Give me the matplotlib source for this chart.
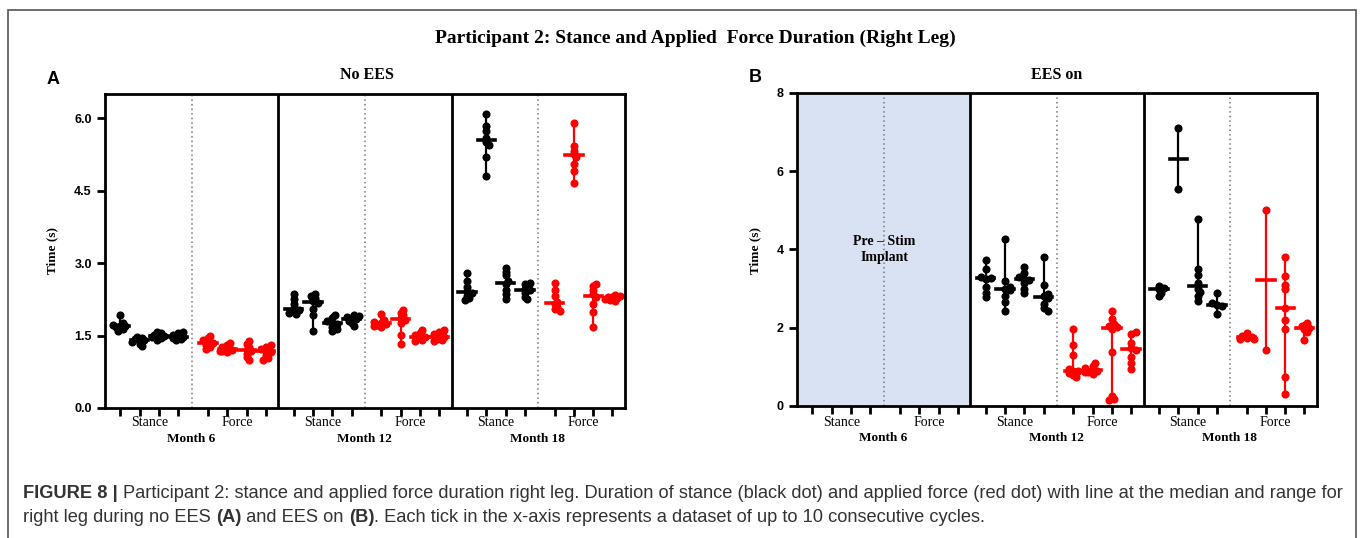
import numpy as np
import matplotlib
matplotlib.use("Agg")
import matplotlib.pyplot as plt
from matplotlib.transforms import blended_transform_factory
from matplotlib.patches import Rectangle

# values (seconds), 4 datasets per group
months = ["Month 6", "Month 12", "Month 18"]
groups = ["Stance", "Force"]

# A: no EES
a6_stance = [[1.93, 1.76, 1.72, 1.70, 1.70, 1.68, 1.64, 1.60],
             [1.48, 1.45, 1.42, 1.40, 1.40, 1.37, 1.33, 1.28],
             [1.58, 1.56, 1.52, 1.50, 1.50, 1.47, 1.44, 1.40],
             [1.58, 1.55, 1.52, 1.48, 1.48, 1.45, 1.42, 1.40]]
a6_force = [[1.50, 1.44, 1.40, 1.36, 1.34, 1.30, 1.26, 1.22],
            [1.35, 1.30, 1.26, 1.23, 1.21, 1.19, 1.17, 1.15],
            [1.38, 1.33, 1.27, 1.21, 1.19, 1.12, 1.05, 1.00],
            [1.30, 1.26, 1.22, 1.18, 1.16, 1.10, 1.04, 1.00]]
a12_stance = [[2.35, 2.25, 2.15, 2.07, 2.03, 2.00, 1.97, 1.95],
              [2.35, 2.32, 2.28, 2.22, 2.18, 2.05, 1.92, 1.60],
              [1.92, 1.86, 1.80, 1.76, 1.74, 1.68, 1.64, 1.60],
              [1.92, 1.90, 1.88, 1.86, 1.84, 1.80, 1.75, 1.70]]
a12_force = [[1.95, 1.82, 1.78, 1.76, 1.74, 1.72, 1.70, 1.68],
             [2.02, 1.97, 1.92, 1.87, 1.83, 1.75, 1.52, 1.33],
             [1.62, 1.56, 1.52, 1.49, 1.47, 1.44, 1.40, 1.38],
             [1.62, 1.58, 1.53, 1.49, 1.47, 1.43, 1.40, 1.38]]
a18_stance = [[2.79, 2.62, 2.50, 2.42, 2.38, 2.32, 2.27, 2.23],
              [6.08, 5.83, 5.74, 5.58, 5.50, 5.44, 5.20, 4.80],
              [2.89, 2.82, 2.75, 2.62, 2.56, 2.45, 2.35, 2.25],
              [2.59, 2.57, 2.52, 2.46, 2.44, 2.38, 2.30, 2.25]]
a18_force = [[2.59, 2.45, 2.32, 2.20, 2.15, 2.10, 2.05, 2.01],
             [5.90, 5.42, 5.33, 5.26, 5.20, 5.05, 4.90, 4.65],
             [2.57, 2.52, 2.45, 2.35, 2.30, 2.15, 1.98, 1.68],
             [2.34, 2.32, 2.30, 2.29, 2.27, 2.25, 2.23, 2.22]]

# B: EES on (no data at month 6, pre-implant)
b12_stance = [[3.73, 3.50, 3.30, 3.27, 3.25, 3.05, 2.90, 2.78],
              [4.27, 3.20, 3.05, 3.00, 2.96, 2.80, 2.65, 2.44],
              [3.56, 3.40, 3.30, 3.25, 3.23, 3.15, 3.00, 2.88],
              [3.82, 3.09, 2.85, 2.80, 2.76, 2.60, 2.50, 2.44]]
b12_force = [[1.98, 1.56, 1.30, 0.95, 0.90, 0.90, 0.85, 0.80, 0.73],
             [1.09, 1.02, 0.96, 0.92, 0.90, 0.88, 0.86, 0.83],
             [2.44, 2.22, 2.10, 2.05, 2.01, 1.98, 1.39, 0.25, 0.18, 0.15],
             [1.90, 1.85, 1.62, 1.48, 1.42, 1.25, 1.10, 0.94]]
b18_stance = [[3.07, 3.02, 2.98, 2.90, 2.80],
              [7.11, 5.54],
              [4.78, 3.50, 3.35, 3.15, 3.00, 2.92, 2.80, 2.69],
              [2.90, 2.62, 2.58, 2.55, 2.34]]
b18_force = [[1.86, 1.80, 1.77, 1.75, 1.72, 1.70],
             [5.01, 1.43],
             [3.82, 3.31, 3.09, 2.98, 2.50, 2.20, 1.96, 0.75, 0.30],
             [2.11, 2.05, 2.00, 1.98, 1.90, 1.69]]

W, H = 1363, 538
PANEL = 9.0
OFFS = [0.8, 1.8, 2.8, 3.8, 5.35, 6.35, 7.35, 8.35]
SERIF = ["Liberation Serif", "DejaVu Serif"]
SANS = ["Liberation Sans", "DejaVu Sans"]

fig = plt.figure(figsize=(W / 100, H / 100), dpi=100)


def box(x0, y0, x1, y1):
    # pixel box -> figure fraction
    return [x0 / W, 1 - y1 / H, (x1 - x0) / W, (y1 - y0) / H]


def swarm(ax, xc, vals, color, diam=7.5):
    # push overlapping dots sideways a little, like a prism dot plot
    vals = np.asarray(vals, float)
    pts = ax.transData.transform(np.column_stack([np.full(len(vals), xc), vals]))
    placed = []
    for i in np.argsort(np.abs(vals - np.median(vals))):
        px, py = pts[i]
        for k in [0, 1, -1, 2, -2, 3, -3]:
            cx = px + k * diam * 0.32
            if all((cx - qx) ** 2 + (py - qy) ** 2 >= (diam * 0.45) ** 2 for qx, qy in placed):
                break
        placed.append((cx, py))
    xy = ax.transData.inverted().transform(np.array(placed))
    ax.scatter(xy[:, 0], xy[:, 1], s=34, color=color, zorder=4, linewidths=0)
    ax.plot([xc, xc], [vals.min(), vals.max()], color=color, lw=1.6, zorder=3)
    med = np.median(vals)
    ax.plot([xc - 0.45, xc + 0.45], [med, med], color=color, lw=2.6, zorder=5)


def panel(ax, ymax, yticks, ylabels, data, x_lab, label_y):
    ax.set_xlim(0, 3 * PANEL)
    ax.set_ylim(0, ymax)
    for k in range(3):
        ax.axvline(k * PANEL + 4.5, color="#777777", ls=(0, (1, 2)), lw=1.1, zorder=1)
        if k > 0:
            ax.axvline(k * PANEL, color="black", lw=2, zorder=6)
    xt = [k * PANEL + o for k in range(3) for o in OFFS]
    ax.set_xticks(xt)
    ax.set_xticklabels([])
    ax.set_yticks(yticks)
    ax.set_yticklabels(ylabels, fontweight="bold", family=SANS, fontsize=9)
    ax.tick_params(axis="both", length=6, width=2, direction="out")
    for s in ax.spines.values():
        s.set_linewidth(2)
        s.set_zorder(7)
    for k, (stance, force) in enumerate(data):
        if stance is None:
            continue
        for j in range(4):
            swarm(ax, k * PANEL + OFFS[j], stance[j], "black")
            swarm(ax, k * PANEL + OFFS[4 + j], force[j], "#ff0000")
    tr = blended_transform_factory(ax.transData, fig.transFigure)
    for k in range(3):
        ax.text(k * PANEL + np.mean(OFFS[:4]), 1 - (label_y + 15) / H, groups[0],
                transform=tr, ha="center", va="center", family=SERIF, fontsize=10)
        ax.text(k * PANEL + np.mean(OFFS[4:]), 1 - (label_y + 15) / H, groups[1],
                transform=tr, ha="center", va="center", family=SERIF, fontsize=10)
        ax.text(k * PANEL + 4.45, 1 - (label_y + 31) / H, months[k],
                transform=tr, ha="center", va="center", family=SERIF,
                fontsize=9.5, fontweight="bold")
    fig.text(x_lab / W, 1 - 250 / H, "Time (s)", rotation=90, ha="center", va="center",
             family=SERIF, fontsize=9.5, fontweight="bold")


axA = fig.add_axes(box(105, 94, 625, 408))
panel(axA, 6.5, [0, 1.5, 3.0, 4.5, 6.0], ["0.0", "1.5", "3.0", "4.5", "6.0"],
      [(a6_stance, a6_force), (a12_stance, a12_force), (a18_stance, a18_force)], 52, 408)

axB = fig.add_axes(box(797, 93, 1317, 406))
axB.axvspan(0, PANEL, color="#d9e2f2", zorder=0)
panel(axB, 8, [0, 2, 4, 6, 8], ["0", "2", "4", "6", "8"],
      [(None, None), (b12_stance, b12_force), (b18_stance, b18_force)], 755, 407)
axB.text(4.55, 4.0, "Pre \u2013 Stim\nImplant", ha="center", va="center", family=SERIF,
         fontsize=10, fontweight="bold", linespacing=1.3, zorder=2)

# titles and panel letters
fig.text(695 / W, 1 - 38 / H, "Participant 2: Stance and Applied  Force Duration (Right Leg)",
         ha="center", va="center", family=SERIF, fontsize=14, fontweight="bold")
fig.text(367 / W, 1 - 75 / H, "No EES", ha="center", va="center", family=SERIF,
         fontsize=11.5, fontweight="bold")
fig.text(1057 / W, 1 - 75 / H, "EES on", ha="center", va="center", family=SERIF,
         fontsize=11.5, fontweight="bold")
fig.text(53 / W, 1 - 79 / H, "A", ha="center", va="center", family=SANS,
         fontsize=13, fontweight="bold")
fig.text(755 / W, 1 - 77 / H, "B", ha="center", va="center", family=SANS,
         fontsize=13, fontweight="bold")

# frame around the figure
fig.patches.append(Rectangle((8 / W, -0.05), (1356 - 8) / W, 1.05 - 10 / H,
                             transform=fig.transFigure, fill=False,
                             edgecolor="#555555", lw=1.2))

# caption with bold pieces
renderer = fig.canvas.get_renderer()


def caption(pieces, y):
    x = 23
    for txt, bold in pieces:
        t = fig.text(x / W, 1 - y / H, txt, ha="left", va="center", family=SANS,
                     fontsize=13.15, color="#333333", fontweight="bold" if bold else "normal")
        x += t.get_window_extent(renderer).width


caption([("FIGURE 8 | ", True),
         ("Participant 2: stance and applied force duration right leg. Duration of stance "
          "(black dot) and applied force (red dot) with line at the median and range for", False)], 493)
caption([("right leg during no EES ", False), ("(A)", True), (" and EES on ", False), ("(B)", True),
         (". Each tick in the x-axis represents a dataset of up to 10 consecutive cycles.", False)], 518)

fig.savefig("out.png", dpi=100)
